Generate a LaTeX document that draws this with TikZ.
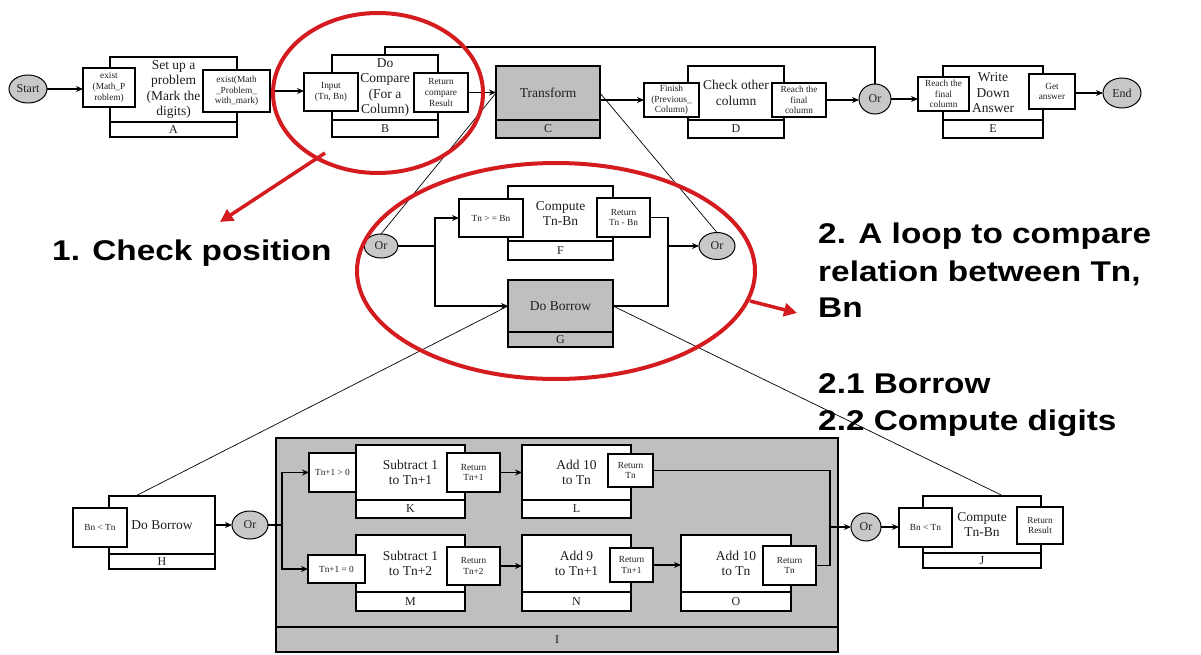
\documentclass[tikz,border=0pt]{standalone}
\usepackage{fontspec}
\setmainfont{Liberation Serif}
\newfontfamily\annotfont{Liberation Sans}
\usetikzlibrary{shapes.geometric,arrows.meta,calc}
\definecolor{boxgray}{RGB}{191,191,191}
\definecolor{orgray}{RGB}{200,200,200}
\definecolor{annred}{RGB}{212,28,32}
\definecolor{txt}{RGB}{30,30,30}
% rectangle node by its corners: style, name, x1, y1, x2, y2, text
\newcommand\bx[7]{\node[#1,minimum width={(#5-#3)*1pt},minimum height={(#6-#4)*1pt}] (#2) at ({(#3+#5)/2},{(#4+#6)/2}) {#7};}
% ellipse node: name, x, y, width, height, text
\newcommand\orat[6]{\node[orn,minimum width=#4pt,minimum height=#5pt] (#1) at (#2,#3) {#6};}
\tikzset{
  base/.style={draw, line width=1.1pt, inner sep=0pt, outer sep=0pt, text=txt},
  mainbox/.style={base, fill=white, font=\fontsize{13.5}{15.5}\selectfont, align=center},
  graymain/.style={base, fill=boxgray, font=\fontsize{13.5}{15.5}\selectfont, align=center},
  strip/.style={base, fill=white, font=\fontsize{12}{13}\selectfont},
  graystrip/.style={base, fill=boxgray, font=\fontsize{12}{13}\selectfont},
  side/.style={base, fill=white, font=\fontsize{9.3}{10.6}\selectfont, align=center},
  orn/.style={ellipse, draw, line width=1pt, fill=orgray, inner sep=0pt, outer sep=0pt, font=\fontsize{12}{13}\selectfont, text=txt},
  conn/.style={line width=1.1pt, -{Stealth[length=7pt,width=6pt]}},
  plain/.style={line width=1.1pt},
  thinl/.style={line width=0.7pt},
  redring/.style={draw=annred, line width=4pt},
  redarrow/.style={draw=annred, line width=3.5pt, -{Triangle[length=13pt,width=13pt]}},
  annot/.style={font=\annotfont\bfseries\fontsize{28.5}{34}\selectfont, xscale=1.17, anchor=base west, inner sep=0pt},
}
\begin{document}
\begin{tikzpicture}[x=1pt,y=-1pt]
\useasboundingbox (0,0) rectangle (1201,655);
\fill[white] (0,0) rectangle (1201,655);

% ---------- top row ----------
\orat{Start}{28}{89}{38}{28}{Start}
\bx{mainbox}{Am}{110}{57}{237}{122}{Set up a\\problem\\(Mark the\\digits)}
\bx{strip}{As}{110}{122}{237}{137}{A}
\bx{side}{Ain}{83}{68}{135}{107}{exist\\(Math\_P\\roblem)}
\bx{side}{Aout}{203}{70}{270}{112}{exist(Math\\\_Problem\_\\with\_mark)}

\bx{mainbox}{Bm}{332}{55}{438}{120}{Do\\Compare\\(For a\\Column)}
\bx{strip}{Bs}{332}{120}{438}{137}{B}
\bx{side}{Bin}{304}{73}{358}{111}{Input\\(Tn, Bn)}
\bx{side}{Bout}{414}{73}{468}{112}{Return\\compare\\Result}

\bx{graymain}{C}{496}{66}{600}{120}{Transform}
\bx{graystrip}{Cs}{496}{120}{600}{138}{C}

\bx{mainbox}{Dm}{688}{66}{784}{120}{Check other\\column}
\bx{strip}{Ds}{688}{120}{784}{138}{D}
\bx{side}{Din}{644}{83}{699}{117}{Finish\\(Previous\_\\Column)}
\bx{side}{Dout}{772}{83}{826}{117}{Reach the\\final\\column}

\orat{Or1}{875}{99}{32}{30}{Or}

\bx{mainbox}{Em}{943}{66}{1043}{120}{Write\\Down\\Answer}
\bx{strip}{Es}{943}{120}{1043}{138}{E}
\bx{side}{Ein}{918}{77}{969}{111}{Reach the\\final\\column}
\bx{side}{Eout}{1029}{74}{1075}{109}{Get\\answer}

\orat{End}{1122}{93}{38}{30}{End}

\coordinate (topline) at (0,47);
\draw[conn] (Start.east) -- (Ain.west |- Start.east);
\draw[conn] (Aout.east) -- (Bin.west |- Aout.east);
\draw[conn] (Bout.east) -- (C.west |- Bout.east);
\draw[conn] (C.east |- Din.west) -- (Din.west);
\draw[conn] (Dout.east) -- (Or1.west |- Dout.east);
\draw[conn] (Or1.east) -- (Ein.west |- Or1.east);
\draw[conn] (Eout.east |- End.west) -- (End.west);
\draw[plain] (Bm.north) -- (Bm.north |- topline) -| (Or1.north);

% ---------- middle group ----------
\orat{Or2}{381}{246}{34}{24}{Or}
\orat{Or3}{717}{246}{36}{27}{Or}
\bx{mainbox}{Fm}{508}{186}{613}{241}{Compute\\Tn-Bn}
\bx{strip}{Fs}{508}{241}{613}{260}{F}
\bx{side}{Fin}{459}{199}{523}{237}{Tn > = Bn}
\bx{side}{Fout}{597}{198}{650}{237}{Return\\Tn - Bn}
\bx{graymain}{Gm}{508}{280}{613}{332}{Do Borrow}
\bx{graystrip}{Gs}{508}{332}{613}{347}{G}

\coordinate (j1) at (435,0);
\coordinate (j2) at (668,0);
\draw[plain] (Or2.east) -- (j1 |- Or2.east);
\draw[conn] (j1 |- Or2.east) |- (Fin.west);
\draw[conn] (j1 |- Or2.east) |- (Gm.west);
\draw[conn] (Fout.east) -| (j2 |- Or3.west) -- (Or3.west);
\draw[plain] (Gm.east) -| (j2 |- Or3.west);

% ---------- bottom group ----------
\bx{graymain}{Im}{276}{438}{838}{627}{}
\bx{graystrip}{Is}{276}{627}{838}{652}{I}

\bx{mainbox}{Hm}{109}{496}{215}{554}{Do Borrow}
\bx{strip}{Hs}{109}{554}{215}{569}{H}
\bx{side}{Hin}{73}{508}{127}{547}{Bn < Tn}
\orat{Or4}{250}{525}{36}{28}{Or}

\bx{mainbox}{Km}{356}{445}{465}{500}{Subtract 1\\to Tn+1}
\bx{strip}{Ks}{356}{500}{465}{518}{K}
\bx{side}{Kin}{309}{453}{356}{492}{Tn+1 > 0}
\bx{side}{Kout}{447}{453}{500}{492}{Return\\Tn+1}

\bx{mainbox}{Lm}{522}{445}{631}{500}{Add 10\\to Tn}
\bx{strip}{Ls}{522}{500}{631}{518}{L}
\bx{side}{Lout}{608}{454}{653}{487}{Return\\Tn}

\bx{mainbox}{Mm}{356}{535}{465}{592}{Subtract 1\\to Tn+2}
\bx{strip}{Ms}{356}{592}{465}{611}{M}
\bx{side}{Min}{308}{555}{365}{583}{Tn+1 = 0}
\bx{side}{Mout}{447}{547}{500}{585}{Return\\Tn+2}

\bx{mainbox}{Nm}{522}{535}{631}{592}{Add 9\\to Tn+1}
\bx{strip}{Ns}{522}{592}{631}{611}{N}
\bx{side}{Nout}{610}{548}{653}{582}{Return\\Tn+1}

\bx{mainbox}{Om}{681}{535}{791}{592}{Add 10\\to Tn}
\bx{strip}{Os}{681}{592}{791}{611}{O}
\bx{side}{Oout}{763}{546}{816}{585}{Return\\Tn}

\orat{Or5}{866}{527}{30}{28}{Or}
\bx{mainbox}{Jm}{923}{496}{1041}{553}{Compute\\Tn-Bn}
\bx{strip}{Js}{923}{553}{1041}{568}{J}
\bx{side}{Jin}{899}{508}{952}{547}{Bn < Tn}
\bx{side}{Jout}{1017}{507}{1063}{544}{Return\\Result}

\coordinate (j3) at (282,0);
\coordinate (j4) at (830,0);
\draw[conn] (Hm.east) -- (Or4.west |- Hm.east);
\draw[plain] (Or4.east) -- (j3 |- Or4.east);
\draw[conn] (j3 |- Or4.east) |- (Kin.west);
\draw[conn] (j3 |- Or4.east) |- (Min.west);
\draw[conn] (Kout.east) -- (Lm.west |- Kout.east);
\draw[conn] (Mout.east) -- (Nm.west |- Mout.east);
\draw[conn] (Nout.east) -- (Om.west |- Nout.east);
\draw[plain] (Lout.east) -| (j4 |- Or5.west);
\draw[plain] (Oout.east) -| (j4 |- Or5.west);
\draw[conn] (j4 |- Or5.west) -- (Or5.west);
\draw[conn] (Or5.east) -- (Jin.west |- Or5.east);

% ---------- thin links ----------
\draw[thinl] (Or2.north) -- (C.west);
\draw[thinl] (C.east) -- (Or3.north);

% ---------- annotations ----------
\node[annot] (t1) at (52,260) {1. Check position};
\node[annot] (t2a) at (818,243) {2. A loop to compare};
\node[annot] (t2b) at (818,281) {relation between Tn,};
\node[annot] (t2c) at (818,317) {Bn};
\node[annot] (t3a) at (818,393) {2.1 Borrow};
\node[annot] (t3b) at (818,430) {2.2 Compute digits};

\draw[thinl] (Gm.west) -- ($(Hm.north west)!0.25!(Hm.north east)$);
\draw[thinl] (Gm.east) -- ($(Jm.north west)!0.68!(Jm.north east)$);

\draw[redring] (378,93) ellipse [x radius=105, y radius=80];
\draw[redring] (556,271) ellipse [x radius=199, y radius=108];
\coordinate (r1s) at (325,153);
\coordinate (r1e) at (220,222);
\coordinate (r2s) at (750,301);
\coordinate (r2e) at (797,313);
\draw[redarrow] (r1s) -- (r1e);
\draw[redarrow] (r2s) -- (r2e);
\end{tikzpicture}
\end{document}
